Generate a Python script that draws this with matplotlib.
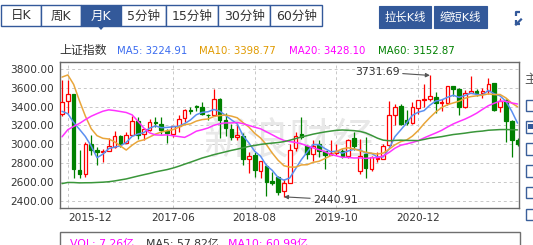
import numpy as np
import pandas as pd
import matplotlib
matplotlib.use('Agg')
import matplotlib.pyplot as plt
from matplotlib.patches import Rectangle, Polygon

plt.rcParams['font.family'] = ['DejaVu Sans', 'Noto Sans CJK SC']

# ---------------- data: SSE Composite monthly candles 2015-11 .. 2022-05 ----------------
months = pd.period_range('2015-11', '2022-05', freq='M').strftime('%Y-%m').tolist()

opens = [3325.0, 3456.3, 3536.6, 2730.9, 2688.0, 3004.2, 2936.0, 2913.5, 2924.5, 2967.0,
         3083.0, 3018.0, 3101.0, 3243.0, 3105.0, 3150.0, 3237.0, 3220.0, 3146.0, 3111.0,
         3193.0, 3274.0, 3363.0, 3403.0, 3395.0, 3316.0, 3314.0, 3478.0, 3258.0, 3163.0,
         3082.0, 3084.0, 2841.0, 2882.0, 2716.0, 2769.0, 2611.0, 2647.0, 2498.0, 2589.0,
         2955.0, 3105.0, 2980.0, 2901.0, 3005.0, 2930.0, 2889.0, 2906.0, 2930.0, 2872.0,
         3067.0, 2716.0, 2899.0, 2735.0, 2838.0, 2847.0, 2991.0, 3315.0, 3410.0, 3262.0,
         3229.0, 3388.0, 3474.0, 3486.0, 3503.0, 3443.0, 3442.0, 3616.0, 3592.0, 3397.0,
         3545.0, 3568.0, 3544.0, 3567.0, 3649.0, 3393.0, 3472.0, 3251.0, 3047.0]
highs = [3678.3, 3684.6, 3538.7, 2933.9, 3018.8, 3097.2, 2974.3, 2945.7, 3069.2, 3140.3,
         3100.5, 3134.0, 3301.0, 3288.0, 3174.0, 3264.0, 3287.0, 3295.0, 3159.0, 3194.0,
         3307.0, 3380.0, 3391.0, 3418.0, 3450.0, 3320.0, 3587.0, 3495.0, 3334.0, 3220.0,
         3219.0, 3116.0, 2916.0, 2916.0, 2827.0, 2787.0, 2703.0, 2666.0, 2631.0, 2998.0,
         3130.0, 3288.0, 2990.0, 3044.0, 3048.0, 2933.0, 3042.0, 2998.0, 2950.0, 3054.0,
         3128.0, 3058.0, 3074.0, 2870.0, 2918.0, 3007.0, 3458.0, 3424.0, 3425.0, 3366.0,
         3452.0, 3474.0, 3637.0, 3731.69, 3554.0, 3478.0, 3622.0, 3624.0, 3597.0, 3581.0,
         3723.0, 3584.0, 3595.0, 3708.0, 3651.0, 3491.0, 3485.0, 3262.0, 3070.0]
lows = [3300.0, 3328.0, 2638.3, 2638.9, 2649.8, 2887.3, 2780.8, 2807.5, 2925.0, 2961.0,
        2969.0, 3012.0, 3084.0, 3056.0, 3044.0, 3139.0, 3180.0, 3111.0, 3016.0, 3081.0,
        3133.0, 3233.0, 3318.0, 3354.0, 3306.0, 3254.0, 3306.0, 3062.0, 3091.0, 3041.0,
        3041.0, 2782.0, 2691.0, 2653.0, 2644.0, 2449.2, 2566.0, 2462.0, 2440.91, 2588.0,
        2933.0, 3055.0, 2838.0, 2822.0, 2865.0, 2733.0, 2889.0, 2891.0, 2857.0, 2857.0,
        2939.0, 2685.0, 2646.0, 2720.0, 2815.0, 2847.0, 2984.0, 3204.0, 3202.0, 3210.0,
        3214.0, 3325.0, 3401.0, 3456.0, 3328.0, 3357.0, 3422.0, 3512.0, 3312.0, 3382.0,
        3545.0, 3515.0, 3492.0, 3538.0, 3357.0, 3344.0, 3023.0, 2863.0, 2985.0]
closes = [3445.41, 3539.18, 2737.60, 2687.98, 3003.92, 2938.32, 2916.62, 2929.61, 2979.34, 3085.49,
          3004.70, 3100.49, 3250.03, 3103.64, 3159.17, 3241.73, 3222.51, 3154.66, 3117.18, 3192.43,
          3273.03, 3360.81, 3348.94, 3393.34, 3317.19, 3307.17, 3480.83, 3259.41, 3168.90, 3082.23,
          3095.47, 2847.42, 2876.40, 2725.25, 2821.35, 2602.78, 2588.19, 2493.90, 2584.57, 2940.95,
          3090.76, 3078.34, 2898.70, 2978.88, 2932.51, 2886.24, 2905.19, 2929.06, 2871.98, 3050.12,
          2976.53, 2880.30, 2750.30, 2860.08, 2852.35, 2984.67, 3310.01, 3395.68, 3218.05, 3224.53,
          3391.76, 3473.07, 3483.07, 3509.08, 3441.91, 3446.86, 3615.48, 3591.20, 3397.36, 3543.94,
          3568.17, 3547.34, 3563.89, 3639.78, 3361.44, 3462.31, 3252.20, 3047.06, 3001.56]
# monthly closes before the visible window (2010-12 .. 2015-10), used by the moving averages
prior_closes = [2808.08,
                2790.69, 2905.05, 2928.11, 2911.51, 2743.47, 2762.08, 2701.73, 2567.34, 2359.22, 2468.25, 2333.41, 2199.42,
                2292.61, 2428.49, 2262.79, 2396.32, 2372.23, 2225.43, 2103.63, 2047.52, 2086.17, 2068.88, 1980.12, 2269.13,
                2385.42, 2365.59, 2236.62, 2177.91, 2300.59, 1979.21, 1993.80, 2098.38, 2174.67, 2141.61, 2220.50, 2115.98,
                2033.08, 2056.30, 2033.31, 2026.36, 2039.21, 2048.33, 2201.56, 2217.20, 2363.87, 2420.18, 2682.83, 3234.68,
                3210.36, 3310.30, 3747.90, 4441.66, 4611.74, 4277.22, 3663.73, 3205.99, 3052.78, 3382.56]

ma_periods = [5, 10, 20, 60]
ma_names = ['MA5', 'MA10', 'MA20', 'MA60']
ma_values_text = ['3224.91', '3398.77', '3428.10', '3152.87']
ma_line_colors = ['#5b8ff0', '#e9a63a', '#ff33ff', '#3a963a']
ma_text_colors = ['#3b6cf0', '#e09a00', '#ff00ff', '#008000']

x_tick_labels = ['2015-12', '2017-06', '2018-08', '2019-10', '2020-12']
y_ticks = [2400, 2600, 2800, 3000, 3200, 3400, 3600, 3800]

high_label = ('2021-02', 3731.69)
low_label = ('2019-01', 2440.91)

tabs = ['日K', '周K', '月K', '5分钟', '15分钟', '30分钟', '60分钟']
selected_tab = '月K'
buttons = ['拉长K线', '缩短K线']
title_name = '上证指数'
vol_texts = ['VOL: 7.26亿', 'MA5: 57.82亿', 'MA10: 60.99亿']
vol_colors = ['#ff00ff', '#333333', '#ff00ff']

# ---------------- figure ----------------
W, H = 533, 245
fig = plt.figure(figsize=(W / 100, H / 100), dpi=100)
fig.patch.set_facecolor('white')

ov = fig.add_axes([0, 0, 1, 1], zorder=0)
ov.set_xlim(0, W)
ov.set_ylim(H, 0)
ov.axis('off')

# main price axes (pixel box: x 60..519, y 62..208)
L, R, T, B = 60, 519, 62, 208
ax = fig.add_axes([L / W, 1 - B / H, (R - L) / W, (B - T) / H], zorder=2)
ax.set_facecolor('white')

x = np.arange(len(months))
o = np.array(opens); h = np.array(highs); lo = np.array(lows); c = np.array(closes)

# moving averages
allc = np.array(prior_closes + closes)
off = len(prior_closes)
for p, col in zip(ma_periods, ma_line_colors):
    ma = np.array([allc[off + i - p + 1: off + i + 1].mean() for i in range(len(closes))])
    ax.plot(x, ma, color=col, lw=1.1, zorder=4, solid_capstyle='round')

RED, GREEN = '#ff0000', '#008000'
bw = 0.62
for i in x:
    up = c[i] >= o[i]
    top, bot = max(o[i], c[i]), min(o[i], c[i])
    if up:
        ax.vlines(i, top, h[i], color=RED, lw=0.9, zorder=2)
        ax.vlines(i, lo[i], bot, color=RED, lw=0.9, zorder=2)
        ax.add_patch(Rectangle((i - bw / 2, bot), bw, max(top - bot, 4), facecolor='white',
                               edgecolor=RED, lw=0.9, zorder=3))
    else:
        ax.vlines(i, lo[i], h[i], color=GREEN, lw=0.9, zorder=2)
        ax.add_patch(Rectangle((i - bw / 2, bot), bw, max(top - bot, 4), facecolor=GREEN,
                               edgecolor=GREEN, lw=0.9, zorder=3))

ax.set_xlim(-0.34, 78.25)
ax.set_ylim(2322.4, 3874.4)

xt = [months.index(t) for t in x_tick_labels]
ax.set_xticks(xt)
ax.set_xticklabels(x_tick_labels)
ax.set_yticks(y_ticks)
ax.set_yticklabels(['%.2f' % v for v in y_ticks])
ax.tick_params(axis='both', length=0, labelsize=7.6, colors='#333333')
ax.tick_params(axis='y', pad=4.2)
ax.tick_params(axis='x', pad=3.6)
ax.get_xticklabels()[0].set_horizontalalignment('left')
ax.grid(True, color='#c8c8c8', lw=0.7, ls=(0, (3, 3)), zorder=0)
ax.set_axisbelow(True)
for s in ax.spines.values():
    s.set_color('#6a6a6a')
    s.set_linewidth(1.0)

# watermark
ax.text(0.50, 0.45, '新浪财经', transform=ax.transAxes, fontsize=31, color='#e8e8e8',
        ha='center', va='center', zorder=1, style='italic')

# annotations
ai = months.index(high_label[0])
ax.annotate('%.2f' % high_label[1], xy=(ai, high_label[1]), xytext=(-30, 3.5),
            textcoords='offset pixels', ha='right', va='center', fontsize=7.8, color='#333333',
            arrowprops=dict(arrowstyle='-|>', color='#555555', lw=0.8, mutation_scale=6,
                            shrinkA=0, shrinkB=0), zorder=6)
li = months.index(low_label[0])
ax.annotate('%.2f' % low_label[1], xy=(li, low_label[1]), xytext=(29, -2.8),
            textcoords='offset pixels', ha='left', va='center', fontsize=7.8, color='#333333',
            arrowprops=dict(arrowstyle='-|>', color='#555555', lw=0.8, mutation_scale=6,
                            shrinkA=0, shrinkB=0), zorder=6)

# ---------------- header (pixel coordinates) ----------------
BLUE = '#33599a'
edges = [1, 40.7, 81, 121, 165.7, 218.3, 270, 322.3]
for k, t in enumerate(tabs):
    x0, x1 = edges[k], edges[k + 1]
    sel = (t == selected_tab)
    ov.add_patch(Rectangle((x0, 5), x1 - x0, 21, facecolor=BLUE if sel else 'white',
                           edgecolor=BLUE, lw=1.0))
    ov.text((x0 + x1) / 2, 16, t, ha='center', va='center', fontsize=9,
            color='white' if sel else '#333333')
    if sel:
        cx = (x0 + x1) / 2
        ov.add_patch(Polygon([(cx - 3.5, 26), (cx + 3.5, 26), (cx, 30)], closed=True,
                             facecolor=BLUE, edgecolor='none'))

bedges = [(378.7, 431), (434.3, 487)]
for (x0, x1), t in zip(bedges, buttons):
    ov.add_patch(Rectangle((x0, 6), x1 - x0, 21.7, facecolor=BLUE, edgecolor=BLUE, lw=0.8))
    ov.text((x0 + x1) / 2, 17, t, ha='center', va='center', fontsize=8.2, color='white')

# small full-screen icon at the far right
ov.plot([515.5, 515.5, 520], [16, 12, 12], color=BLUE, lw=1.6, solid_capstyle='butt')
ov.plot([516, 521], [24.5, 19.5], color=BLUE, lw=1.6)
ov.plot([515.5, 515.5, 519.5], [20.5, 24.5, 24.5], color=BLUE, lw=1.6, solid_capstyle='butt')

# legend row
ov.text(59.3, 50.8, title_name, ha='left', va='center', fontsize=8.6, color='#333333')
lx = [117.3, 199.3, 288.7, 378.3]
for xx, n, v, col in zip(lx, ma_names, ma_values_text, ma_text_colors):
    ov.text(xx, 50.8, '%s: %s' % (n, v), ha='left', va='center', fontsize=7.3, color=col)

# right-side controls
ov.text(524.5, 80, '主', ha='left', va='center', fontsize=9, color='#555555')
for ty in [99.5, 121.2, 143.4, 165.2, 187.0, 209.0]:
    ov.add_patch(Rectangle((525.5, ty), 12, 11.3, facecolor='white', edgecolor='#3a5f9a', lw=1.0))
ov.add_patch(Rectangle((528.3, 123.6), 6, 5.8, facecolor=BLUE, edgecolor='none'))

# volume panel (clipped at bottom)
ov.add_patch(Rectangle((59.5, 232.3), 460, 30, facecolor='white', edgecolor='#6f6f6f', lw=1.0))
for xx, t, col in zip([70, 145.7, 227.7], vol_texts, vol_colors):
    ov.text(xx, 238.6, t, ha='left', va='top', fontsize=7.8, color=col)

fig.savefig('out.png', dpi=100, facecolor='white')
